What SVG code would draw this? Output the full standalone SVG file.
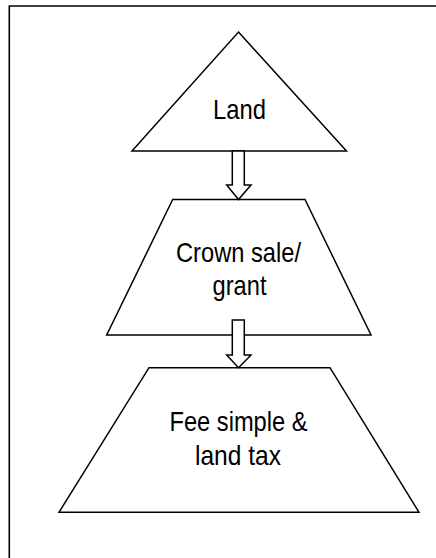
<svg xmlns="http://www.w3.org/2000/svg" width="436" height="558" viewBox="0 0 436 558">
  <style>
    .shape { fill: #ffffff; stroke: #000000; stroke-width: 1.5; stroke-linejoin: miter; }
    .frame { fill: none; stroke: #000000; stroke-width: 1.6; }
    .arrow { fill: #ffffff; stroke: #000000; stroke-width: 1.5; stroke-linejoin: miter; }
    .label { font-family: "Liberation Sans", Arial, Helvetica, sans-serif; font-size: 28px; fill: #000000; text-anchor: middle; }
  </style>
  <rect width="436" height="558" fill="#ffffff"/>
  <path class="frame" d="M9.3 558 L9.3 6 L436 6"/>

  <g id="land">
    <polygon class="shape" points="238.5,32 346.5,151 132,151"/>
    <text class="label" x="239.5" y="119" textLength="53" lengthAdjust="spacingAndGlyphs">Land</text>
  </g>

  <g id="crown-sale-grant">
    <polygon class="shape" points="172.7,199.5 305,199.5 371,335 106.7,335"/>
    <text class="label" x="238.5" y="262" textLength="125" lengthAdjust="spacingAndGlyphs">Crown sale/</text>
    <text class="label" x="239.5" y="294.5" textLength="54" lengthAdjust="spacingAndGlyphs">grant</text>
  </g>

  <g id="fee-simple-land-tax">
    <polygon class="shape" points="149,367.7 330,367.7 419,512.3 59,512.3"/>
    <text class="label" x="238.5" y="431" textLength="138" lengthAdjust="spacingAndGlyphs">Fee simple &amp;</text>
    <text class="label" x="238" y="465" textLength="86" lengthAdjust="spacingAndGlyphs">land tax</text>
  </g>

  <g id="connectors">
    <polygon class="arrow" points="232.3,151 244.3,151 244.3,185 251,185 238.5,199.5 226.7,185 232.3,185"/>
    <polygon class="arrow" points="232.3,320 244.3,320 244.3,355 251,355 238.5,367.7 226.7,355 232.3,355"/>
  </g>
</svg>
